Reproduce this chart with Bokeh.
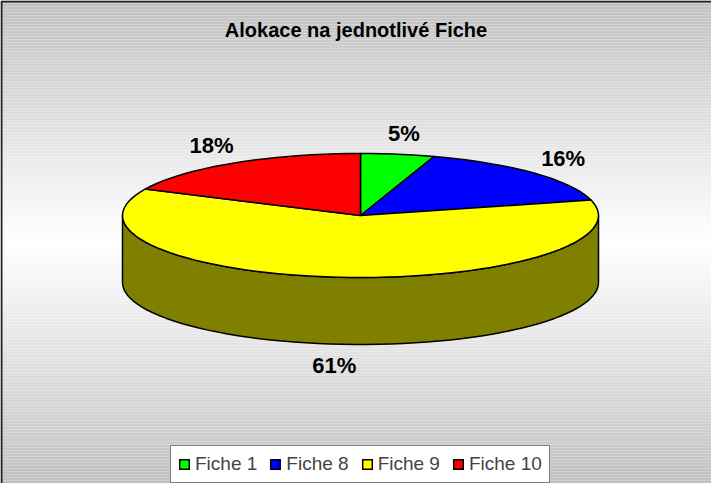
import numpy as np
from bokeh.plotting import figure
from bokeh.models import Range1d, Legend, LegendItem
from bokeh.core.properties import value
from bokeh.embed import file_html
from bokeh.resources import INLINE

# ---- data ----
categories = ["Fiche 1", "Fiche 8", "Fiche 9", "Fiche 10"]
shares = [5, 16, 61, 18]
slice_colors = ["#00ff00", "#0000ff", "#ffff00", "#ff0000"]
side_colors = ["#008000", "#000080", "#808000", "#800000"]
chart_title = "Alokace na jednotlivé Fiche"

# ---- layout constants ----
W, H = 711, 483
CX, CY = 360.0, 215.0
RX, RY = 238.0, 62.0
DEPTH = 67.0
FONT = "Liberation Sans"

p = figure(width=W, height=H, x_range=Range1d(0, W), y_range=Range1d(H, 0),
           output_backend="svg", toolbar_location=None, min_border=0,
           x_axis_type=None, y_axis_type=None)
p.grid.visible = False
p.outline_line_color = None
p.border_fill_color = "white"

# background gradient (gray -> white -> gray)
step = 3
ys0 = np.arange(0, H + step, step)
mid = H / 2.0
cols = []
for y in ys0:
    t = min(1.0, abs((y + step / 2) - mid) / mid)
    g = int(round(255 - (255 - 192) * t))
    cols.append("#%02x%02x%02x" % (g, g, g))
p.quad(left=0, right=W, top=ys0, bottom=ys0 + step, fill_color=cols, line_color=None)

# chart border (right/bottom sides fall outside view, as in the reference)
p.quad(left=1, right=W + 30, top=1, bottom=H + 30, fill_color=None,
       line_color="#222222", line_width=2)

# ---- pie geometry ----
total = float(sum(shares))
bounds = np.concatenate([[0.0], np.cumsum(shares) / total * 360.0])


def arc(a, b, dy=0.0, n=120):
    t = np.radians(np.linspace(a, b, max(2, int(n * (b - a) / 360) + 2)))
    return CX + RX * np.sin(t), CY - RY * np.cos(t) + dy


# sides
side_xs, side_ys, side_fill = [], [], []
for i in range(len(shares)):
    a, b = max(bounds[i], 90.0), min(bounds[i + 1], 270.0)
    if a < b:
        x1, y1 = arc(a, b)
        x2, y2 = arc(a, b, DEPTH)
        side_xs.append(list(x1) + list(x2[::-1]))
        side_ys.append(list(y1) + list(y2[::-1]))
        side_fill.append(side_colors[i])
p.patches(side_xs, side_ys, fill_color=side_fill, line_color="black",
          line_width=1.5, line_join="round")

# top faces
renderers = []
for i in range(len(shares)):
    x1, y1 = arc(bounds[i], bounds[i + 1])
    r = p.patch([CX] + list(x1) + [CX], [CY] + list(y1) + [CY],
                fill_color=slice_colors[i], line_color="black",
                line_width=1.5, line_join="round")
    renderers.append(r)

# percentage labels
lx, ly, lt = [], [], []
for i, s in enumerate(shares):
    m = np.radians((bounds[i] + bounds[i + 1]) / 2)
    lx.append(CX + (RX + 40) * np.sin(m))
    ly.append(CY - (RY + 21) * np.cos(m) + (DEPTH if np.cos(m) < 0 else 0))
    lt.append("%d%%" % round(s / total * 100))
p.text(lx, ly, text=lt, text_font=value(FONT), text_font_style="bold",
       text_font_size="22px", text_align="center", text_baseline="middle",
       text_color="black")

# title
p.text([W / 2], [29], text=[chart_title], text_font=value(FONT),
       text_font_style="bold", text_font_size="20px", text_align="center",
       text_baseline="middle", text_color="black")

# legend
items = [LegendItem(label=categories[i], renderers=[renderers[i]]) for i in range(len(shares))]
legend = Legend(items=items, orientation="horizontal", location=(170, 0),
                label_text_font=FONT, label_text_font_size="19px",
                glyph_width=12, glyph_height=12, label_standoff=5, spacing=12,
                padding=7, margin=0, border_line_color="black",
                border_line_width=1, background_fill_color="white",
                background_fill_alpha=1.0)
p.add_layout(legend)

open("out.html", "w").write(file_html(p, INLINE, title=chart_title))
